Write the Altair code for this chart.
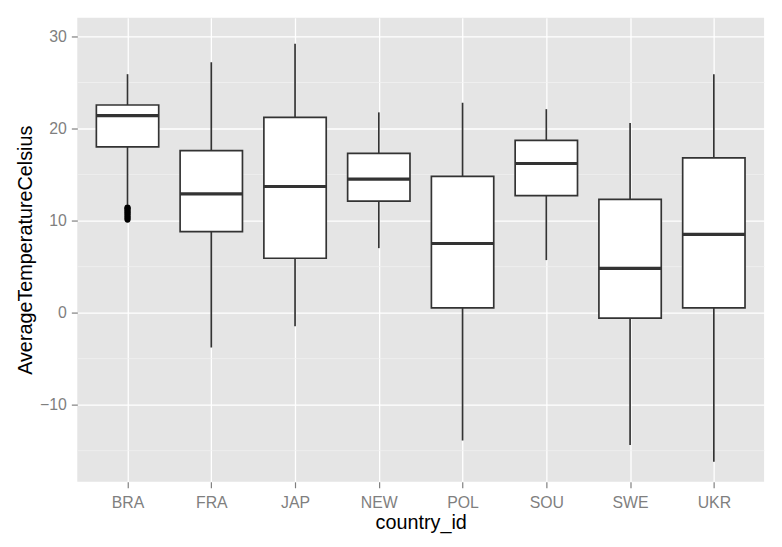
import altair as alt
import pandas as pd

countries = ["BRA", "FRA", "JAP", "NEW", "POL", "SOU", "SWE", "UKR"]
whisker_low = [11.7, -3.8, -1.5, 7.0, -13.9, 5.7, -14.4, -16.2]
q1 = [18.0, 8.8, 5.9, 12.1, 0.5, 12.7, -0.6, 0.5]
median = [21.4, 12.9, 13.7, 14.5, 7.5, 16.2, 4.8, 8.5]
q3 = [22.55, 17.6, 21.2, 17.3, 14.8, 18.7, 12.3, 16.8]
whisker_high = [25.9, 27.2, 29.2, 21.75, 22.8, 22.1, 20.6, 25.9]

outlier_country = ["BRA"] * 8
outlier_values = [10.1, 10.3, 10.5, 10.7, 10.9, 11.1, 11.3, 11.4]

box_df = pd.DataFrame({
    "country_id": countries,
    "lo": whisker_low,
    "q1": q1,
    "med": median,
    "q3": q3,
    "hi": whisker_high,
})
out_df = pd.DataFrame({"country_id": outlier_country, "v": outlier_values})

FONT = "Liberation Sans"
ydomain = [-18.39, 32.04]
yticks = [-15, -10, -5, 0, 5, 10, 15, 20, 25, 30]

xenc = alt.X(
    "country_id:N",
    sort=countries,
    scale=alt.Scale(type="point", padding=0.6),
    axis=alt.Axis(
        title="country_id", grid=True, gridColor="white", gridWidth=1.3,
        domain=False, tickColor="#7F7F7F", tickSize=6, tickWidth=1.2,
        labelColor="#7F7F7F",
        labelFontSize=16, labelFont=FONT, labelAngle=0, labelPadding=7,
        titleFont=FONT, titleFontSize=20, titleFontWeight="normal",
        titleColor="black", titlePadding=2,
    ),
)

yscale = alt.Scale(domain=ydomain, nice=False, zero=False)

yaxis = alt.Axis(
    title="AverageTemperatureCelsius", values=yticks,
    grid=True,
    gridColor={"condition": {"test": "datum.value % 10 === 0", "value": "white"}, "value": "#F2F2F2"},
    gridWidth={"condition": {"test": "datum.value % 10 === 0", "value": 1.3}, "value": 0.7},
    tickOpacity={"condition": {"test": "datum.value % 10 === 0", "value": 1}, "value": 0},
    labelExpr="datum.value % 10 === 0 ? datum.label : ''",
    domain=False, tickColor="#7F7F7F", tickSize=6, tickWidth=1.2,
    labelColor="#7F7F7F",
    labelFontSize=16, labelFont=FONT, labelPadding=5,
    titleFont=FONT, titleFontSize=20, titleFontWeight="normal",
    titleColor="black", titlePadding=4,
)

base = alt.Chart(box_df)

whiskers = base.mark_rule(color="#333333", strokeWidth=1.7, opacity=1).encode(
    x=xenc,
    y=alt.Y("lo:Q", scale=yscale, axis=yaxis),
    y2="hi:Q",
)

boxes = base.mark_bar(size=63, fill="white", stroke="#333333", strokeWidth=1.7, opacity=1).encode(
    x=alt.X("country_id:N", sort=countries),
    y=alt.Y("q1:Q", scale=yscale),
    y2="q3:Q",
)

medians = base.mark_tick(size=63, thickness=3.2, color="#333333", opacity=1, orient="horizontal").encode(
    x=alt.X("country_id:N", sort=countries),
    y=alt.Y("med:Q", scale=yscale),
)

outliers = alt.Chart(out_df).mark_circle(size=40, color="black", opacity=1).encode(
    x=alt.X("country_id:N", sort=countries),
    y=alt.Y("v:Q", scale=yscale),
)

chart = alt.layer(whiskers, boxes, medians, outliers).properties(
    width=694,
    height=469,
    padding={"left": 70, "top": 7, "right": 10, "bottom": 55},
    autosize="none",
    background="white",
).configure_view(
    fill="#E5E5E5", strokeWidth=0
)

chart.save("out.html", embed_options={"renderer": "svg", "actions": False})
